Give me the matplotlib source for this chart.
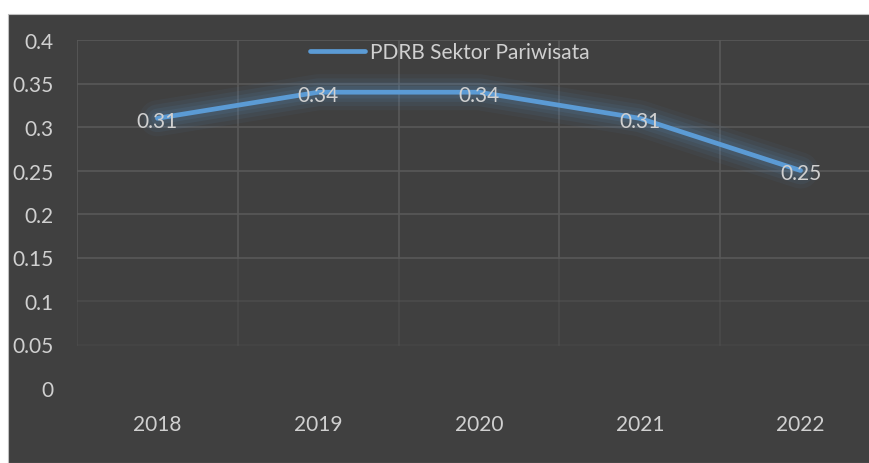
import matplotlib.pyplot as plt
from matplotlib.patches import Rectangle

years = ["2018", "2019", "2020", "2021", "2022"]
pdrb = [0.31, 0.34, 0.34, 0.31, 0.25]
yticks = [0, 0.05, 0.1, 0.15, 0.2, 0.25, 0.3, 0.35, 0.4]
ytick_labels = ["0", "0.05", "0.1", "0.15", "0.2", "0.25", "0.3", "0.35", "0.4"]
series_name = "PDRB Sektor Pariwisata"

BG = "#404040"
GRID = "#595959"
TXT = "#D0D0D0"
BLUE = "#5B9BD5"

plt.rcParams['font.family'] = ['Lato', 'DejaVu Sans']

fig = plt.figure(figsize=(8.7, 4.64), dpi=100)
fig.patch.set_facecolor("white")
bg = Rectangle((8 / 870, 0), 1, 1 - 15 / 464, transform=fig.transFigure,
               facecolor=BG, edgecolor="#BFBFBF", linewidth=0.8, zorder=-10)
fig.add_artist(bg)

ax = fig.add_axes([77 / 870, 1 - 389 / 464, 804 / 870, 348 / 464])
ax.set_facecolor("none")
ax.set_zorder(5)
x = list(range(len(years)))

# gridlines, fading towards the bottom like the original
for v in yticks[1:]:
    a = 1.0 if v >= 0.15 else (0.45 if v >= 0.1 else 0.2)
    ax.axhline(v, color=GRID, lw=1.2, alpha=a, zorder=1)
for b in [i - 0.5 for i in range(len(years) + 1)]:
    ax.plot([b, b], [0.15, 0.4], color=GRID, lw=1.2, zorder=1)
    ax.plot([b, b], [0.05, 0.15], color=GRID, lw=1.2, alpha=0.4, zorder=1)

# glow
for w, a in [(26, 0.05), (20, 0.07), (14, 0.09), (9, 0.1)]:
    ax.plot(x, pdrb, color=BLUE, lw=w, alpha=a, solid_capstyle="round",
            solid_joinstyle="round", zorder=2)
line, = ax.plot(x, pdrb, color=BLUE, lw=3.4, solid_capstyle="round", zorder=3, label=series_name)

for xi, v in zip(x, pdrb):
    ax.annotate(f"{v:g}", (xi, v), xytext=(0, -2), textcoords="offset points",
                ha="center", va="center", color=TXT, fontsize=15, zorder=4)

ax.set_xlim(-0.5, len(years) - 0.5)
ax.set_ylim(0, 0.4)
ax.set_xticks(x)
ax.set_xticklabels(years)
ax.set_yticks(yticks)
ax.set_yticklabels(ytick_labels)
ax.tick_params(axis="y", length=0, pad=17, colors=TXT, labelsize=15)
ax.tick_params(axis="x", length=0, pad=19, colors=TXT, labelsize=15)
for s in ax.spines.values():
    s.set_visible(False)

ax.legend(handles=[line], loc="center", bbox_to_anchor=(450 / 870, 1 - 53 / 464),
          bbox_transform=fig.transFigure, frameon=False, fontsize=15, labelcolor=TXT,
          handlelength=2.64, handletextpad=0.25, borderpad=0)

fig.savefig("out.png", dpi=100, facecolor=fig.get_facecolor())
